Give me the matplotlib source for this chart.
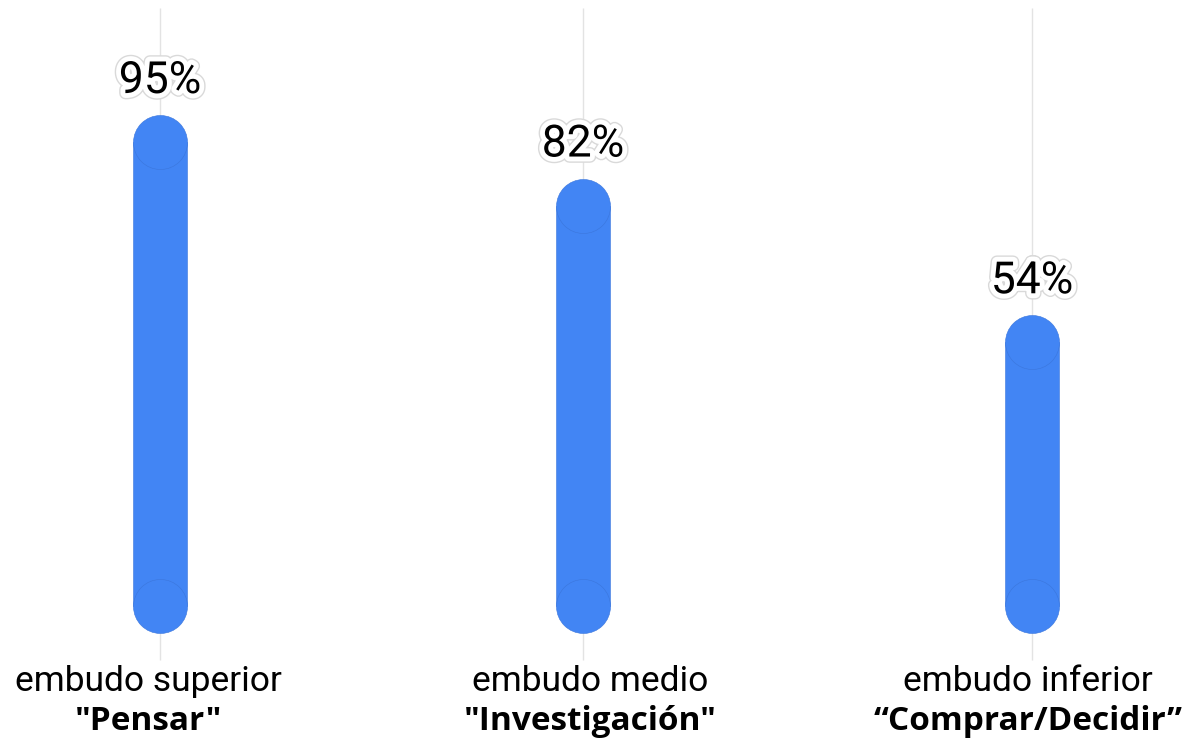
import matplotlib.pyplot as plt
import matplotlib.patheffects as pe

# Porcentaje por etapa del embudo
etapas = ["embudo superior", "embudo medio", "embudo inferior"]
nombres = ['"Pensar"', '"Investigación"', '“Comprar/Decidir”']
valores = [95, 82, 54]

azul = "#4285F4"
plt.rcParams["font.family"] = ["Roboto", "DejaVu Sans"]

fig = plt.figure(figsize=(11.86, 7.42), dpi=100)
ax = fig.add_axes([0, 0, 1, 1])
ax.set_xlim(-0.367, 2.353)
ax.set_ylim(-27.85, 124.1)
ax.axis("off")

pos = [0, 0.97, 2.0]
desp = [-0.027, 0.016, -0.009]   # ajuste horizontal de las etiquetas
ancho = 0.124      # ancho de la barra en unidades de x
diam = 38.9        # diámetro de los extremos redondeados (pt)

# líneas guía verticales
ax.vlines(pos, -11, 122.4, color="#e3e3e3", lw=1, zorder=0)

for x, d, v, etapa, nombre in zip(pos, desp, valores, etapas, nombres):
    ax.bar(x, v, width=ancho, color=azul, edgecolor="#3b76dc", lw=0.4, zorder=2)
    ax.scatter([x, x], [0, v], s=diam ** 2, color=azul, edgecolor="#3b76dc",
               lw=0.4, zorder=3)
    ax.text(x, v + 12.5, f"{v}%", ha="center", va="center", fontsize=32,
            color="black", zorder=4,
            path_effects=[pe.Stroke(linewidth=9, foreground="#d9d9d9"),
                          pe.Stroke(linewidth=7, foreground="white"),
                          pe.Normal()])
    ax.text(x + d, -15.5, etapa, ha="center", va="center", fontsize=25.5,
            color="black")
    ax.text(x + d, -23.6, nombre, ha="center", va="center", fontsize=24,
            fontweight="bold", color="black",
            family=["Open Sans", "DejaVu Sans"])

fig.savefig("out.png", dpi=100)
